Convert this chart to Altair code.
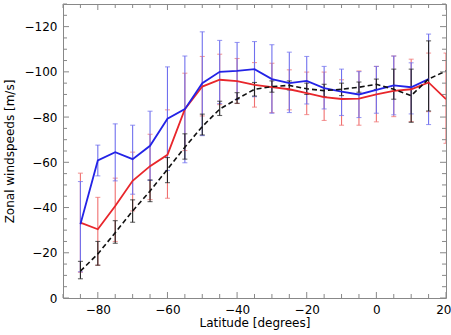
import altair as alt
import pandas as pd

# Latitudes (degrees)
lat_blue = [-85, -80, -75, -70, -65, -60, -55, -50, -45, -40, -35, -30, -25, -20, -15, -10, -5, 0, 5, 10, 15]
lat_full = lat_blue + [20]

# Blue series (value, upper bar end, lower bar end)
blue_val = [-32.6, -60.8, -64.5, -61.4, -67.3, -79.3, -83.5, -95.0, -100.0, -100.4, -101.2, -96.8, -95.0, -96.0, -92.8, -91.3, -90.0, -92.0, -94.0, -93.2, -96.8]
blue_top = [-51.5, -67.6, -77.0, -76.4, -82.6, -102.2, -107.0, -117.7, -113.9, -113.0, -113.4, -112.0, -108.7, -106.8, -102.4, -101.2, -100.1, -102.4, -107.0, -104.0, -116.7]
blue_bot = [-11.6, -54.0, -51.8, -45.9, -52.0, -56.4, -59.8, -71.8, -86.0, -87.8, -89.0, -81.7, -82.0, -85.8, -83.6, -80.7, -79.8, -81.7, -81.0, -81.4, -76.7]

# Red series
red_val = [-33.3, -30.4, -40.7, -51.8, -58.3, -63.3, -83.5, -93.5, -96.5, -95.9, -94.2, -93.2, -92.3, -90.6, -88.8, -88.0, -88.2, -90.0, -91.6, -92.3, -95.3, -87.9]
red_top = [-55.2, -44.5, -53.0, -64.5, -72.4, -83.2, -99.4, -106.8, -107.8, -105.9, -104.1, -103.8, -100.9, -99.9, -99.9, -96.5, -100.4, -102.4, -107.0, -105.6, -108.3, -108.3]
red_bot = [-11.4, -14.5, -25.0, -38.5, -43.5, -44.1, -65.2, -80.5, -85.5, -86.0, -84.4, -82.0, -83.2, -81.1, -78.5, -76.4, -76.4, -77.9, -80.2, -78.0, -82.4, -68.4]

# Black (dashed) series
black_val = [-11.9, -19.5, -28.9, -38.5, -47.3, -56.9, -66.7, -75.8, -83.5, -88.0, -92.3, -93.5, -94.0, -92.5, -91.7, -92.3, -93.2, -94.5, -92.3, -89.5, -96.8, -100.4]
black_top = [-16.2, -25.0, -34.2, -43.4, -52.2, -62.1, -72.6, -81.3, -87.0, -90.8, -95.3, -96.0, -96.0, -95.0, -94.5, -95.0, -95.5, -96.8, -101.2, -101.2, -113.7]
black_bot = [-8.5, -14.5, -24.2, -33.5, -42.6, -51.0, -61.4, -72.1, -80.7, -86.1, -89.3, -91.0, -92.0, -90.0, -89.0, -89.5, -91.0, -92.2, -87.9, -77.7, -82.7]

# Axis ticks
x_labels = [-80, -60, -40, -20, 0, 20]
y_labels = [0, -20, -40, -60, -80, -100, -120]
x_minor = [v for v in range(-90, 21, 5) if v not in x_labels]
y_minor = [v for v in range(-130, 1, 5) if v not in y_labels]

W, H = 383, 294
FONT = "DejaVu Sans"
X_TITLE = "Latitude [degrees]"
Y_TITLE = "Zonal windspeeds [m/s]"

xs = alt.Scale(domain=[-90, 20], nice=False, zero=False)
ys = alt.Scale(domain=[0, -130], nice=False, zero=False)
common_axis = dict(ticks=False, domain=False, grid=False,
                   labelFont=FONT, titleFont=FONT, labelFontSize=12, titleFontSize=12,
                   labelColor="#000000", titleColor="#000000", titleFontWeight="normal")
x_axis = alt.Axis(values=x_labels, labelPadding=6, titlePadding=2,
                  labelFlush=True, labelFlushOffset=5, **common_axis)
y_axis = alt.Axis(values=y_labels, labelPadding=6, titlePadding=8,
                  labelFlush=False, **common_axis)

blue_df = pd.DataFrame({"lat": lat_blue, "v": blue_val, "t": blue_top, "b": blue_bot})
red_df = pd.DataFrame({"lat": lat_full, "v": red_val, "t": red_top, "b": red_bot})
black_df = pd.DataFrame({"lat": lat_full, "v": black_val})
black_err_df = pd.DataFrame({"lat": lat_blue, "t": black_top, "b": black_bot})

def xenc(field="lat"):
    return alt.X(f"{field}:Q", scale=xs, axis=x_axis, title=X_TITLE)

def yenc(field):
    return alt.Y(f"{field}:Q", scale=ys, axis=y_axis, title=Y_TITLE)

def errbars(df, color, width):
    rule = alt.Chart(df).mark_rule(color=color, strokeWidth=width, clip=True).encode(
        x=xenc(), y=yenc("t"), y2="b:Q")
    cap_t = alt.Chart(df).mark_tick(color=color, orient="horizontal", size=5, thickness=width, clip=True).encode(
        x=xenc(), y=yenc("t"))
    cap_b = alt.Chart(df).mark_tick(color=color, orient="horizontal", size=5, thickness=width, clip=True).encode(
        x=xenc(), y=yenc("b"))
    return [rule, cap_t, cap_b]

layers = []
layers += errbars(red_df, "#f07070", 1.1)
layers += errbars(blue_df, "#7070ee", 1.1)
layers += errbars(black_err_df, "#222222", 1.1)

red_line = alt.Chart(red_df).mark_line(color="#e8262b", strokeWidth=1.8, clip=True).encode(
    x=xenc(), y=yenc("v"))
blue_line = alt.Chart(blue_df).mark_line(color="#2323e6", strokeWidth=1.8, clip=True).encode(
    x=xenc(), y=yenc("v"))
black_line = alt.Chart(black_df).mark_line(color="#111111", strokeWidth=1.6, strokeDash=[5, 3], clip=True).encode(
    x=xenc(), y=yenc("v"))
layers += [red_line, blue_line, black_line]

# Inward tick marks on all four sides
TC = "#888888"
def xticks(vals, length):
    d = pd.DataFrame({"lat": vals})
    bot = alt.Chart(d).mark_rule(color=TC, strokeWidth=1).encode(
        x=xenc(), y=alt.value(H), y2=alt.value(H - length))
    top = alt.Chart(d).mark_rule(color=TC, strokeWidth=1).encode(
        x=xenc(), y=alt.value(0), y2=alt.value(length))
    return [bot, top]

def yticks(vals, length):
    d = pd.DataFrame({"v": vals})
    left = alt.Chart(d).mark_rule(color=TC, strokeWidth=1).encode(
        y=yenc("v"), x=alt.value(0), x2=alt.value(length))
    right = alt.Chart(d).mark_rule(color=TC, strokeWidth=1).encode(
        y=yenc("v"), x=alt.value(W), x2=alt.value(W - length))
    return [left, right]

layers += xticks(x_labels, 6) + xticks(x_minor, 4)
layers += yticks(y_labels, 6) + yticks(y_minor, 4)

chart = alt.layer(*layers).properties(
    width=W, height=H,
    background="white",
    autosize=alt.AutoSizeParams(type="none"),
    padding={"left": 63, "top": 4, "right": 5, "bottom": 37},
).configure_view(
    stroke="#888888", strokeWidth=1
)

chart.save("out.html", embed_options={"renderer": "svg", "actions": False})
